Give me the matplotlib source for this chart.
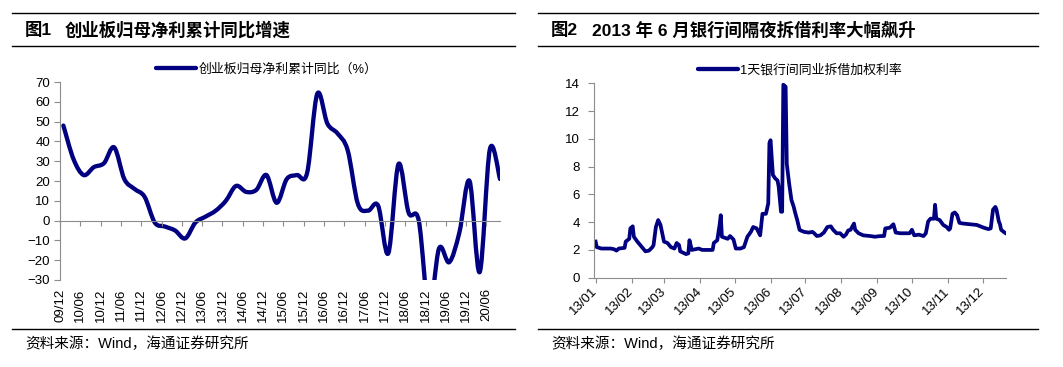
import numpy as np
import matplotlib
matplotlib.use('Agg')
import matplotlib.pyplot as plt
import matplotlib.dates as mdates
from matplotlib.path import Path
from matplotlib.patches import PathPatch
from matplotlib.lines import Line2D

plt.rcParams['font.family'] = ['Liberation Sans', 'Noto Sans CJK SC', 'DejaVu Sans']

# ---------------- Chart 1 data: ChiNext net profit cumulative YoY (%) ----------------
quarters = ['09/12', '10/03', '10/06', '10/09', '10/12', '11/03', '11/06', '11/09', '11/12',
            '12/03', '12/06', '12/09', '12/12', '13/03', '13/06', '13/09', '13/12',
            '14/03', '14/06', '14/09', '14/12', '15/03', '15/06', '15/09', '15/12',
            '16/03', '16/06', '16/09', '16/12', '17/03', '17/06', '17/09', '17/12',
            '18/03', '18/06', '18/09', '18/12', '19/03', '19/06', '19/09', '19/12',
            '20/03', '20/06', '20/09']
growth = [48, 31, 23, 27, 29, 37, 21, 16, 12,
          -1, -3, -5, -9, -1, 2, 5, 10,
          17.5, 14.5, 15.5, 23, 9, 21, 23, 24,
          64, 49, 44, 35.5, 8.5, 5, 7.5, -16.5,
          28.5, 4, 0, -45, -14, -21, -6, 20,
          -26, 36, 21]
left_ticklabels = ['09/12', '10/06', '10/12', '11/06', '11/12', '12/06', '12/12', '13/06',
                   '13/12', '14/06', '14/12', '15/06', '15/12', '16/06', '16/12', '17/06',
                   '17/12', '18/06', '18/12', '19/06', '19/12', '20/06']
legend1 = '创业板归母净利累计同比（%）'

# ---------------- Chart 2 data: 2013 overnight interbank weighted rate ----------------
rate_days = [0, 1, 5, 13, 16, 18, 20, 25, 26, 29, 30, 32, 33, 36, 40, 43, 46, 49, 50, 52,
             54, 56, 59, 62, 65, 68, 70, 72, 73, 78, 80, 81, 83, 86, 89, 92, 96, 101, 102, 105,
             107, 108, 109, 114, 116, 119, 121, 125, 128, 131, 134, 136, 139, 142, 144, 147, 149, 150, 151, 153,
             155, 157, 158, 160, 161, 162, 164, 165, 167, 169, 171, 172, 174, 176, 177, 180, 184, 187, 188, 191,
             194, 197, 200, 203, 205, 208, 211, 214, 216, 218, 220, 223, 224, 227, 231, 237, 241, 246, 249, 250,
             254, 257, 259, 263, 269, 271, 273, 275, 279, 283, 285, 287, 289, 292, 293, 294, 297, 300, 303, 305,
             306, 308, 310, 312, 314, 317, 323, 329, 335, 339, 341, 343, 345, 346, 348, 349, 350, 353, 354]
rate = [2.6, 2.2, 2.1, 2.1, 2.05, 1.95, 2.1, 2.15, 2.6, 2.8, 3.55, 3.7, 2.95, 2.6, 2.2, 1.9, 1.95, 2.2, 2.35, 3.65,
        4.15, 3.8, 2.6, 2.5, 2.2, 2.1, 2.5, 2.35, 1.9, 1.7, 1.75, 2.7, 2.0, 2.05, 2.1, 2.0, 2.0, 2.0, 2.5, 2.7,
        3.8, 4.5, 2.95, 2.8, 3.0, 2.75, 2.1, 2.1, 2.2, 2.95, 3.3, 3.65, 3.55, 3.05, 4.6, 4.6, 5.35, 9.7, 9.9, 7.4,
        7.15, 7.0, 6.55, 4.75, 4.75, 13.9, 13.75, 8.2, 6.8, 5.6, 5.1, 4.75, 4.15, 3.45, 3.4, 3.3, 3.25, 3.3, 3.25, 3.0,
        3.05, 3.25, 3.65, 3.7, 3.45, 3.2, 3.2, 2.95, 3.1, 3.4, 3.45, 3.9, 3.45, 3.2, 3.05, 3.0, 2.95, 3.0, 3.0, 3.55,
        3.6, 3.85, 3.25, 3.2, 3.2, 3.2, 3.45, 3.05, 3.1, 3.0, 3.2, 4.05, 4.25, 4.25, 5.25, 4.25, 4.15, 3.8, 3.65, 3.45,
        3.55, 4.6, 4.7, 4.5, 3.95, 3.9, 3.85, 3.8, 3.6, 3.5, 3.55, 4.9, 5.1, 4.9, 4.05, 3.85, 3.45, 3.25, 3.2]
legend2 = '1天银行间同业拆借加权利率'

NAVY = '#000080'
GRAY = '#8c8c8c'
W, H = 1063, 367

fig = plt.figure(figsize=(W / 100, H / 100), dpi=100)


def month_index(label, end_of_month=False):
    yy, mm = label.split('/')
    return (int(yy) - 9) * 12 + int(mm) - 12 + (1 if end_of_month else 0)


# ---------------- Left chart ----------------
ax1 = fig.add_axes([60 / W, 1 - 280 / H, 440 / W, 198 / H])
xq = np.array([month_index(q, True) for q in quarters], dtype=float)
yq = np.array(growth, dtype=float)

# smooth (Excel-like) curve through the data points
P = np.column_stack([xq, yq])
Pext = np.vstack([P[0], P, P[-1]])
verts = [tuple(P[0])]
codes = [Path.MOVETO]
for i in range(len(P) - 1):
    p0, p1, p2, p3 = Pext[i], Pext[i + 1], Pext[i + 2], Pext[i + 3]
    c1 = p1 + (p2 - p0) / 6.0
    c2 = p2 - (p3 - p1) / 6.0
    verts += [tuple(c1), tuple(c2), tuple(p2)]
    codes += [Path.CURVE4] * 3
patch = PathPatch(Path(verts, codes), facecolor='none', edgecolor=NAVY, lw=3.1,
                  capstyle='round', joinstyle='round', transform=ax1.transData)
ax1.add_patch(patch)

ax1.set_xlim(0, 130)
ax1.set_ylim(-30, 70)
for s in ['top', 'right']:
    ax1.spines[s].set_visible(False)
ax1.spines['bottom'].set_position(('data', 0))
ax1.spines['bottom'].set_color(GRAY)
ax1.spines['left'].set_color(GRAY)
tick_pos = [month_index(t) for t in left_ticklabels]
ax1.set_xticks(tick_pos)
ax1.tick_params(axis='x', direction='out', length=3.5, color=GRAY, labelbottom=False)
ax1.set_yticks(range(-30, 71, 10))
ax1.tick_params(axis='y', direction='out', length=4, color=GRAY, pad=3, labelsize=9.5)
sec = ax1.secondary_xaxis('bottom')
sec.set_xticks(tick_pos, labels=left_ticklabels)
sec.spines['bottom'].set_visible(False)
sec.tick_params(length=0, pad=6, labelsize=9.5, labelrotation=90)

h1 = Line2D([], [], color=NAVY, lw=3.1, solid_capstyle='round')
ax1.legend([h1], [legend1], loc='lower center', bbox_to_anchor=(0.47, 1.0), frameon=False,
           fontsize=9.3, handlelength=3.1, handletextpad=0.2, borderaxespad=0.1)

# ---------------- Right chart ----------------
ax2 = fig.add_axes([594 / W, 1 - 277.7 / H, 412 / W, 194.4 / H])
start = np.datetime64('2013-01-01')
dates = start + np.array(rate_days).astype('timedelta64[D]')
ax2.plot(dates, rate, color=NAVY, lw=2.7, solid_joinstyle='round')
x0 = mdates.date2num(start)
ax2.set_xlim(x0 - 1.4, x0 + 354.2)
ax2.set_ylim(0, 14)
ax2.set_yticks(range(0, 15, 2))
for s in ['top', 'right']:
    ax2.spines[s].set_visible(False)
ax2.spines['bottom'].set_color(GRAY)
ax2.spines['left'].set_color(GRAY)
ax2.xaxis.set_major_locator(mdates.MonthLocator())
ax2.xaxis.set_major_formatter(mdates.DateFormatter('%y/%m'))
ax2.tick_params(axis='x', direction='out', length=3.5, color=GRAY, labelsize=9.5, pad=5)
ax2.tick_params(axis='y', direction='out', length=4, color=GRAY, labelsize=9.5, pad=6)
for lab in ax2.get_xticklabels():
    lab.set_rotation(45)
    lab.set_ha('right')
    lab.set_va('center')
    lab.set_rotation_mode('anchor')

h2 = Line2D([], [], color=NAVY, lw=3.1, solid_capstyle='round')
ax2.legend([h2], [legend2], loc='lower center', bbox_to_anchor=(0.5, 1.0), frameon=False,
           fontsize=9.3, handlelength=3.1, handletextpad=0.2, borderaxespad=0.1)

# ---------------- Headers and footers ----------------
def hline(x0p, x1p, yp, lw=1.0):
    fig.add_artist(Line2D([x0p / W, x1p / W], [1 - yp / H, 1 - yp / H], color='black',
                          lw=lw, transform=fig.transFigure))

hline(12, 515, 12.7)
hline(12, 515, 46)
hline(538, 1038, 12.7)
hline(538, 1038, 46)
hline(12, 515, 328.5)
hline(538, 1038, 329)

ty = 1 - 29.7 / H
fig.text(25 / W, ty, '图1', fontsize=12.5, fontweight='bold', va='center', ha='left')
fig.text(65 / W, ty, '创业板归母净利累计同比增速', fontsize=12.5, fontweight='bold', va='center', ha='left')
fig.text(551 / W, ty, '图2', fontsize=12.5, fontweight='bold', va='center', ha='left')
fig.text(592 / W, ty, '2013 年 6 月银行间隔夜拆借利率大幅飙升', fontsize=12.5, fontweight='bold',
         va='center', ha='left')

fy = 1 - 344 / H
fig.text(25 / W, fy, '资料来源：Wind，海通证券研究所', fontsize=10.5, va='center', ha='left')
fig.text(551 / W, fy, '资料来源：Wind，海通证券研究所', fontsize=10.5, va='center', ha='left')

fig.savefig('out.png', dpi=100)
